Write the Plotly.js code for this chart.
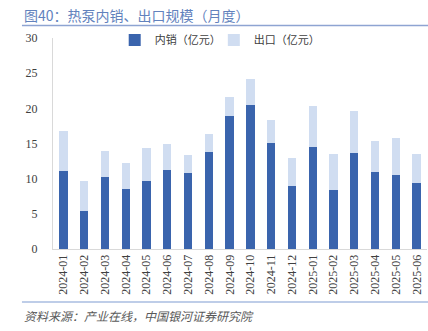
<!DOCTYPE html>
<html><head><meta charset="utf-8">
<script src="https://cdn.plot.ly/plotly-3.0.1.min.js"></script>
<style>html,body{margin:0;padding:0;background:#fff;}#chart{width:428px;height:331px;}</style>
</head><body><div id="chart"></div>
<script>
var months = ["2024-01","2024-02","2024-03","2024-04","2024-05","2024-06","2024-07","2024-08","2024-09","2024-10","2024-11","2024-12","2025-01","2025-02","2025-03","2025-04","2025-05","2025-06"];
var domestic = [11.1,5.4,10.2,8.55,9.65,11.3,10.8,13.8,18.85,20.5,15.05,8.95,14.5,8.4,13.7,11.0,10.55,9.45];
var exportVal = [5.65,4.25,3.7,3.7,4.75,3.6,2.6,2.6,2.7,3.7,3.35,4.05,5.9,5.1,5.95,4.3,5.3,4.05];
var yTicks = [0,5,10,15,20,25,30];

var tickFont = {family:"Liberation Serif, Times New Roman, serif", size:12, color:"#404040"};
var legFont = {family:"Noto Sans CJK SC", size:11, color:"#404040"};
var data = [
  {type:"bar", name:"内销（亿元）", x:months, y:domestic, marker:{color:"#3a64ad"}, legend:"legend"},
  {type:"bar", name:"出口（亿元）", x:months, y:exportVal, marker:{color:"#d0ddf1"}, legend:"legend2"}
];
var layout = {
  width:428, height:331,
  margin:{l:53, r:1, t:38, b:82},
  barmode:"stack", bargap:0.6,
  paper_bgcolor:"#fff", plot_bgcolor:"#fff",
  showlegend:true,
  legend:{orientation:"h", x:0.165, xanchor:"left", y:0.99, yanchor:"middle",
    font:legFont, itemwidth:30, bgcolor:"rgba(0,0,0,0)"},
  legend2:{orientation:"h", x:0.43, xanchor:"left", y:0.99, yanchor:"middle",
    font:legFont, itemwidth:30, bgcolor:"rgba(0,0,0,0)"},
  xaxis:{type:"category", tickangle:-90, tickfont:tickFont, showline:true, linecolor:"#d9d9d9", linewidth:1,
    ticks:"", showgrid:false, automargin:false, fixedrange:true},
  yaxis:{range:[0,30], tickvals:yTicks, ticktext:yTicks.map(String), tickfont:tickFont, showline:true, linecolor:"#d9d9d9",
    showgrid:false, zeroline:false, ticks:"", ticklabelstandoff:12, automargin:false},
  shapes:[
    {type:"line", xref:"paper", yref:"paper", x0:-0.083, x1:1.01, y0:(331-25.5-82)/211, y1:(331-25.5-82)/211, line:{color:"#8ea4d2", width:1.5}},
    {type:"line", xref:"paper", yref:"paper", x0:-0.083, x1:1.01, y0:(249-302)/211, y1:(249-302)/211, line:{color:"#a9bce0", width:1.5}}
  ],
  annotations:[
    {xref:"paper", yref:"paper", x:-0.083, xanchor:"left", y:(249-15)/211, yanchor:"middle", showarrow:false,
     text:"图40：热泵内销、出口规模（月度）", font:{family:"Noto Sans CJK SC", size:14, color:"#6282bd"}},
    {xref:"paper", yref:"paper", x:-0.083, xanchor:"left", y:(249-315)/211, yanchor:"middle", showarrow:false,
     text:"<i>资料来源：产业在线，中国银河证券研究院</i>", font:{family:"Noto Sans CJK SC", size:12, color:"#595959"}}
  ]
};
Plotly.newPlot("chart", data, layout, {displayModeBar:false, staticPlot:true});
</script></body></html>
